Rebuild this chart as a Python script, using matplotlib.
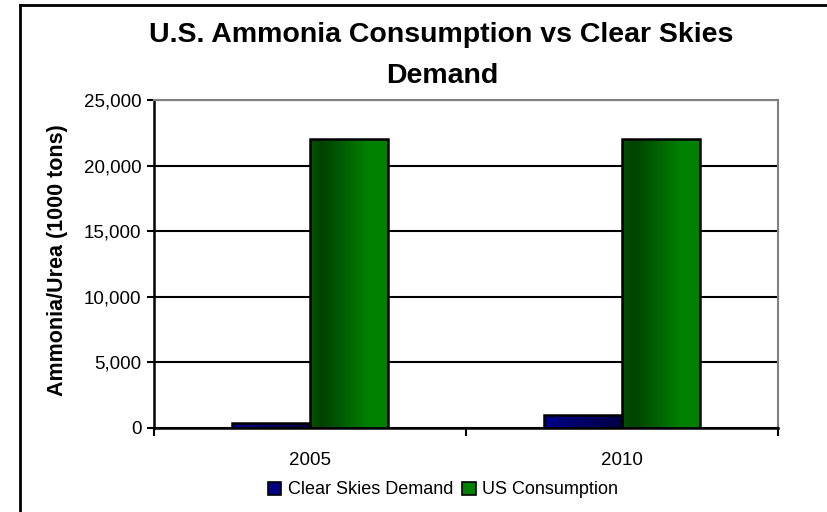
import numpy as np
import matplotlib
matplotlib.use("Agg")
import matplotlib.pyplot as plt
from matplotlib.colors import LinearSegmentedColormap
from matplotlib.patches import Rectangle
from matplotlib.lines import Line2D
from matplotlib.ticker import FuncFormatter, MultipleLocator

plt.rcParams['font.family'] = ['Liberation Sans', 'DejaVu Sans']

categories = ["2005", "2010"]
series_names = ["Clear Skies Demand", "US Consumption"]
clear_skies = [350, 1000]
us_consumption = [22000, 22000]
title_lines = ["U.S. Ammonia Consumption vs Clear Skies", "Demand"]
ylabel = "Ammonia/Urea (1000 tons)"

fig = plt.figure(figsize=(8.27, 5.12), dpi=100)
ax = fig.add_axes([154/827, 1-428/512, 624/827, 328/512])

blue_cmap = LinearSegmentedColormap.from_list("b", [(0, "#000088"), (1, "#000045")])
green_cmap = LinearSegmentedColormap.from_list(
    "g", [(0, "#005400"), (0.15, "#004200"), (0.75, "#008000"), (1, "#008000")])

x = np.arange(len(categories))
w = 0.25
bars1 = ax.bar(x - w/2, clear_skies, w, facecolor="none", edgecolor="black", linewidth=1.8, zorder=3)
bars2 = ax.bar(x + w/2, us_consumption, w, facecolor="none", edgecolor="black", linewidth=1.8, zorder=3)

grad = np.linspace(0, 1, 256).reshape(1, -1)
for bars, cmap in ((bars1, blue_cmap), (bars2, green_cmap)):
    for b in bars:
        bx, by = b.get_x(), b.get_y()
        bw, bh = b.get_width(), b.get_height()
        im = ax.imshow(grad, cmap=cmap, aspect="auto", extent=(bx, bx + bw, by, by + bh),
                       zorder=2, interpolation="bilinear")
        clip = Rectangle((bx, by), bw, bh, transform=ax.transData, facecolor="none", edgecolor="none")
        ax.add_patch(clip)
        im.set_clip_path(clip)

ax.set_xlim(-0.5, 1.5)
ax.set_ylim(0, 25000)
ax.yaxis.set_major_locator(MultipleLocator(5000))
ax.yaxis.set_major_formatter(FuncFormatter(lambda v, p: f"{int(v):,}"))
ax.set_xticks(x)
ax.set_xticklabels(categories)
ax.tick_params(axis="x", length=0, labelsize=13.5, pad=17)
ax.tick_params(axis="y", direction="out", length=5, width=1.5, labelsize=13.5, pad=4)
for boundary in (-0.5, 0.5, 1.5):
    ax.plot([boundary, boundary], [0, -0.02], transform=ax.get_xaxis_transform(),
            color="black", lw=1.5, clip_on=False, zorder=4)

ax.yaxis.grid(True, color="black", linewidth=1.5, zorder=1)
ax.set_axisbelow(True)
for side in ("top", "right"):
    ax.spines[side].set_color("#808080")
    ax.spines[side].set_linewidth(1.5)
ax.spines["left"].set_linewidth(1.8)
ax.spines["bottom"].set_linewidth(1.8)
ax.spines["bottom"].set_zorder(5)

fig.text(58/827, 1-260/512, ylabel, rotation=90, ha="center", va="center",
         fontsize=15.5, fontweight="bold")
fig.text(441/827, 1-42/512, title_lines[0], ha="center", va="baseline", fontsize=20.5, fontweight="bold")
fig.text(442/827, 1-83/512, title_lines[1], ha="center", va="baseline", fontsize=20.5, fontweight="bold")

handles = [Rectangle((0, 0), 1, 1, facecolor="#000080", edgecolor="black", linewidth=1.2),
           Rectangle((0, 0), 1, 1, facecolor="#008000", edgecolor="black", linewidth=1.2)]
fig.legend(handles, series_names, loc="center", bbox_to_anchor=(443/827, 1-490/512),
           ncol=2, frameon=False, fontsize=13, handlelength=0.75, handleheight=0.75,
           handletextpad=0.35, columnspacing=0.5, borderpad=0)

fig.add_artist(Line2D([20/827, 20/827], [0, 1-5/512], transform=fig.transFigure, color="black", lw=2))
fig.add_artist(Line2D([20/827, 1], [1-5/512, 1-5/512], transform=fig.transFigure, color="black", lw=2))

fig.savefig("out.png", dpi=100)
